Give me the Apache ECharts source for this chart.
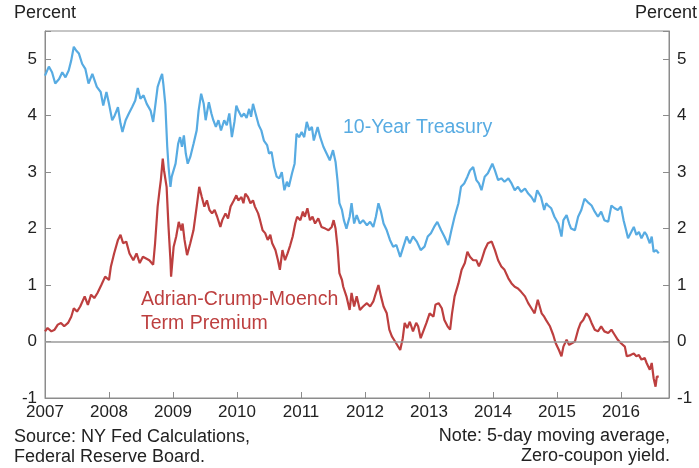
<!DOCTYPE html>
<html>
<head>
<meta charset="utf-8">
<title>10-Year Treasury and ACM Term Premium</title>
<script src="https://cdn.jsdelivr.net/npm/echarts@6/dist/echarts.min.js"></script>
<style>
  html, body { margin: 0; padding: 0; background: #fff; }
  #chart { width: 699px; height: 468px; }
</style>
</head>
<body>
<div id="chart"></div>
<script>
// dates as decimal years, values in percent
var tsyDates = [2007.00,2007.06,2007.11,2007.16,2007.22,2007.27,2007.32,2007.37,2007.41,2007.45,2007.49,2007.53,2007.58,2007.63,2007.68,2007.74,2007.77,2007.81,2007.87,2007.91,2007.96,
  2008.00,2008.05,2008.08,2008.14,2008.18,2008.21,2008.26,2008.31,2008.36,2008.41,2008.45,2008.49,2008.54,2008.59,2008.65,2008.69,2008.72,2008.76,2008.80,2008.83,2008.85,2008.88,2008.91,2008.93,2008.96,2008.98,
  2009.04,2009.08,2009.11,2009.14,2009.17,2009.20,2009.23,2009.27,2009.32,2009.37,2009.40,2009.44,2009.48,2009.51,2009.56,2009.60,2009.63,2009.67,2009.71,2009.75,2009.80,2009.84,2009.88,2009.92,2009.96,2009.99,
  2010.02,2010.07,2010.11,2010.15,2010.19,2010.22,2010.25,2010.29,2010.34,2010.38,2010.42,2010.47,2010.50,2010.54,2010.58,2010.62,2010.66,2010.70,2010.74,2010.78,2010.81,2010.86,2010.90,2010.93,2010.97,
  2011.01,2011.05,2011.09,2011.13,2011.17,2011.20,2011.26,2011.30,2011.35,2011.40,2011.45,2011.50,2011.54,2011.57,2011.60,2011.64,2011.67,2011.71,2011.76,2011.79,2011.83,2011.87,2011.92,2011.97,
  2012.03,2012.08,2012.13,2012.17,2012.21,2012.25,2012.29,2012.34,2012.39,2012.44,2012.49,2012.55,2012.60,2012.65,2012.70,2012.75,2012.81,2012.84,2012.87,2012.93,2012.98,
  2013.03,2013.08,2013.13,2013.19,2013.24,2013.30,2013.35,2013.40,2013.46,2013.50,2013.55,2013.60,2013.64,2013.69,2013.74,2013.78,2013.82,2013.87,2013.92,2013.99,
  2014.03,2014.08,2014.13,2014.18,2014.24,2014.29,2014.34,2014.39,2014.44,2014.50,2014.55,2014.60,2014.65,2014.69,2014.75,2014.80,2014.83,2014.86,2014.91,2014.96,
  2015.02,2015.07,2015.10,2015.15,2015.19,2015.22,2015.28,2015.33,2015.38,2015.43,2015.48,2015.54,2015.59,2015.64,2015.69,2015.74,2015.80,2015.85,2015.90,2015.95,
  2016.00,2016.04,2016.08,2016.11,2016.16,2016.20,2016.24,2016.28,2016.32,2016.37,2016.40,2016.45,2016.48,2016.51,2016.55,2016.59];
var tsyValues = [4.71,4.87,4.77,4.57,4.65,4.77,4.68,4.80,4.98,5.22,5.15,5.10,4.92,4.83,4.57,4.74,4.77,4.51,4.42,4.18,4.42,
  4.21,3.92,3.98,4.15,3.86,3.71,3.92,4.04,4.15,4.27,4.49,4.30,4.36,4.21,4.09,3.89,4.15,4.51,4.65,4.74,4.55,4.20,3.45,3.10,2.74,2.92,
  3.15,3.50,3.62,3.45,3.65,3.33,3.15,3.27,3.50,3.74,4.09,4.39,4.21,3.92,4.24,4.04,3.92,3.80,3.92,3.74,3.92,3.83,4.04,3.62,3.89,4.18,
  4.09,3.98,4.04,3.96,4.12,3.98,4.21,4.04,3.83,3.74,3.56,3.48,3.33,3.36,3.09,2.92,2.89,3.00,2.68,2.83,2.74,2.98,3.15,3.68,3.62,
  3.71,3.62,3.89,3.74,3.80,3.56,3.80,3.62,3.45,3.33,3.21,3.39,3.18,2.86,2.45,2.33,2.15,2.00,2.21,2.45,2.09,2.24,2.09,2.15,
  2.06,2.12,2.03,2.21,2.45,2.30,2.09,1.97,1.80,1.68,1.71,1.50,1.68,1.86,1.74,1.86,1.77,1.80,1.62,1.68,1.86,
  1.92,2.03,2.12,1.97,1.86,1.71,1.97,2.21,2.45,2.74,2.80,2.92,3.03,3.09,2.86,2.80,2.68,2.92,2.98,3.15,
  3.03,2.86,2.89,2.83,2.89,2.80,2.68,2.74,2.65,2.71,2.62,2.56,2.47,2.68,2.56,2.33,2.45,2.41,2.36,2.21,
  2.09,1.86,2.15,2.24,2.09,2.00,1.97,2.21,2.33,2.53,2.47,2.41,2.30,2.21,2.30,2.15,2.12,2.41,2.36,2.33,
  2.39,2.15,1.97,1.83,1.94,2.03,1.89,1.94,1.83,1.94,1.89,1.74,1.86,1.59,1.62,1.56];

var acmDates = [2007.00,2007.04,2007.10,2007.15,2007.20,2007.25,2007.30,2007.36,2007.41,2007.45,2007.50,2007.55,2007.62,2007.67,2007.72,2007.77,2007.82,2007.88,2007.94,
  2008.00,2008.03,2008.08,2008.14,2008.18,2008.22,2008.27,2008.32,2008.38,2008.43,2008.48,2008.53,2008.58,2008.63,2008.69,2008.72,2008.76,2008.79,2008.81,2008.84,2008.86,2008.90,2008.93,2008.96,2008.97,
  2009.01,2009.05,2009.09,2009.13,2009.15,2009.18,2009.22,2009.27,2009.32,2009.37,2009.41,2009.45,2009.49,2009.53,2009.57,2009.61,2009.65,2009.69,2009.74,2009.77,2009.82,2009.86,2009.90,2009.95,2009.99,
  2010.02,2010.07,2010.10,2010.13,2010.17,2010.21,2010.25,2010.28,2010.33,2010.36,2010.40,2010.44,2010.48,2010.52,2010.55,2010.60,2010.64,2010.67,2010.71,2010.75,2010.79,2010.83,2010.87,2010.91,2010.94,2010.99,
  2011.03,2011.06,2011.10,2011.14,2011.18,2011.22,2011.27,2011.32,2011.38,2011.43,2011.48,2011.51,2011.54,2011.57,2011.60,2011.64,2011.66,2011.71,2011.76,2011.79,2011.83,2011.87,2011.92,2011.97,
  2012.03,2012.08,2012.13,2012.17,2012.21,2012.25,2012.29,2012.34,2012.38,2012.42,2012.47,2012.50,2012.55,2012.59,2012.62,2012.66,2012.70,2012.75,2012.80,2012.83,2012.87,2012.91,2012.96,
  2013.01,2013.07,2013.10,2013.15,2013.20,2013.24,2013.29,2013.33,2013.36,2013.40,2013.46,2013.51,2013.56,2013.60,2013.64,2013.69,2013.74,2013.78,2013.82,2013.87,2013.92,2013.98,
  2014.03,2014.08,2014.13,2014.18,2014.24,2014.29,2014.34,2014.39,2014.44,2014.50,2014.55,2014.60,2014.65,2014.70,2014.76,2014.80,2014.83,2014.89,2014.94,2014.98,
  2015.03,2015.07,2015.10,2015.15,2015.19,2015.22,2015.28,2015.33,2015.37,2015.41,2015.46,2015.50,2015.54,2015.59,2015.64,2015.69,2015.74,2015.80,2015.85,2015.90,2015.95,
  2016.00,2016.06,2016.09,2016.15,2016.20,2016.24,2016.28,2016.32,2016.37,2016.40,2016.45,2016.48,2016.51,2016.54,2016.56,2016.59];
var acmValues = [0.18,0.24,0.18,0.21,0.30,0.33,0.27,0.33,0.44,0.59,0.53,0.62,0.80,0.65,0.83,0.77,0.86,1.00,1.15,
  1.09,1.33,1.56,1.80,1.89,1.74,1.77,1.56,1.44,1.56,1.39,1.50,1.47,1.44,1.36,1.74,2.39,2.68,2.86,3.24,3.03,2.74,2.03,1.44,1.15,
  1.68,1.86,2.12,1.97,2.09,1.80,1.53,1.74,1.97,2.39,2.74,2.56,2.39,2.50,2.33,2.27,2.33,2.21,2.03,2.15,2.27,2.18,2.39,2.50,2.59,
  2.50,2.56,2.45,2.62,2.56,2.45,2.50,2.39,2.27,2.15,1.97,1.92,1.80,1.89,1.74,1.62,1.44,1.27,1.62,1.44,1.56,1.70,1.86,2.09,2.21,2.15,
  2.30,2.21,2.36,2.15,2.21,2.09,2.18,2.03,2.00,1.97,2.03,2.15,2.00,1.68,1.21,1.09,0.97,0.80,0.56,0.86,0.62,0.80,0.56,0.62,
  0.68,0.62,0.71,0.86,1.00,0.80,0.62,0.50,0.21,0.09,0.00,0.03,-0.15,0.06,0.33,0.24,0.35,0.18,0.33,0.27,0.06,0.18,0.33,
  0.50,0.44,0.65,0.68,0.59,0.38,0.27,0.21,0.50,0.80,1.03,1.27,1.39,1.59,1.50,1.44,1.44,1.33,1.44,1.62,1.74,1.77,
  1.62,1.44,1.33,1.27,1.12,1.03,0.97,0.94,0.88,0.80,0.68,0.59,0.50,0.74,0.50,0.44,0.38,0.27,0.12,-0.03,
  -0.15,-0.26,-0.09,0.03,-0.06,-0.09,0.00,0.21,0.33,0.38,0.50,0.44,0.33,0.21,0.18,0.27,0.18,0.15,0.21,0.12,0.03,
  -0.03,-0.09,-0.26,-0.24,-0.21,-0.26,-0.24,-0.32,-0.29,-0.38,-0.50,-0.38,-0.65,-0.80,-0.62,-0.62];

var yearMin = 2007, yearMax = 2016.75;
var pctMin = -1, pctMax = 5.5;

function pairs(xs, ys) {
  var out = [];
  for (var i = 0; i < xs.length; i++) out.push([xs[i], ys[i]]);
  return out;
}

var font = "'Liberation Sans', Arial, Helvetica, sans-serif";
var textColor = '#222';
var axisColor = '#8c8c8c';
var blue = '#57abe2';
var red = '#bd3f3f';

function intLabel(v) {
  return Math.abs(v - Math.round(v)) < 1e-6 ? String(Math.round(v)) : '';
}

var yAxisBase = {
  type: 'value',
  min: pctMin,
  max: pctMax,
  interval: 1,
  axisLine: { show: true, lineStyle: { color: axisColor, width: 1 } },
  axisTick: { show: true, inside: true, length: 6, lineStyle: { color: axisColor } },
  axisLabel: { color: textColor, fontSize: 17, fontFamily: font, margin: 8, formatter: intLabel },
  splitLine: { show: false }
};

var chart = echarts.init(document.getElementById('chart'));
chart.setOption({
  animation: false,
  backgroundColor: '#fff',
  grid: { left: 45, right: 30, top: 31, bottom: 70, show: true, borderColor: axisColor, borderWidth: 1 },
  xAxis: {
    type: 'value',
    min: yearMin,
    max: yearMax,
    interval: 1,
    axisLine: { show: true, onZero: false, lineStyle: { color: axisColor, width: 1 } },
    axisTick: { show: true, inside: true, length: 6, lineStyle: { color: axisColor } },
    axisLabel: { color: textColor, fontSize: 17, fontFamily: font, margin: 6, formatter: intLabel, showMaxLabel: false },
    splitLine: { show: false }
  },
  yAxis: [
    Object.assign({}, yAxisBase, { position: 'left' }),
    Object.assign({}, yAxisBase, { position: 'right' })
  ],
  series: [
    {
      name: '10-Year Treasury',
      type: 'line',
      data: pairs(tsyDates, tsyValues),
      showSymbol: false,
      lineStyle: { color: blue, width: 2.2 },
      itemStyle: { color: blue },
      z: 3
    },
    {
      name: 'Adrian-Crump-Moench Term Premium',
      type: 'line',
      data: pairs(acmDates, acmValues),
      showSymbol: false,
      lineStyle: { color: red, width: 2.2 },
      itemStyle: { color: red },
      z: 3,
      markLine: {
        silent: true,
        symbol: 'none',
        label: { show: false },
        lineStyle: { color: '#9a9a9a', width: 1.5, type: 'solid' },
        data: [{ yAxis: 0 }]
      }
    }
  ],
  graphic: [
    { type: 'text', left: 14, top: 4, style: { text: 'Percent', font: '18px ' + font, fill: textColor } },
    { type: 'text', right: 2, top: 4, style: { text: 'Percent', font: '18px ' + font, fill: textColor } },
    { type: 'text', left: 343, top: 118, style: { text: '10-Year Treasury', font: '19.5px ' + font, fill: blue } },
    { type: 'text', left: 141, top: 288, style: { text: 'Adrian-Crump-Moench\nTerm Premium', font: '19.5px ' + font, fill: red, lineHeight: 24 } },
    { type: 'text', left: 14, top: 427, style: { text: 'Source: NY Fed Calculations,\nFederal Reserve Board.', font: '18px ' + font, fill: textColor, lineHeight: 20 } },
    { type: 'text', right: 29, top: 427, style: { text: 'Note: 5-day moving average,', font: '18px ' + font, fill: textColor } },
    { type: 'text', right: 29, top: 447, style: { text: 'Zero-coupon yield.', font: '18px ' + font, fill: textColor } }
  ]
});
</script>
</body>
</html>
